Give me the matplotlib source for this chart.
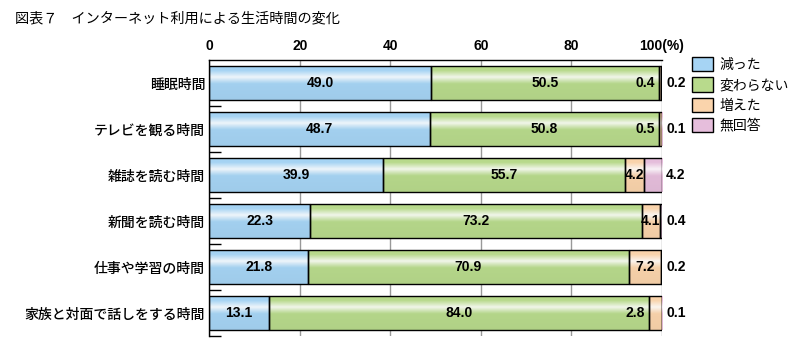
import numpy as np
import matplotlib.pyplot as plt
from matplotlib.patches import Patch
from matplotlib.colors import to_rgb

plt.rcParams['font.family'] = ['Noto Sans CJK JP', 'DejaVu Sans']

categories = ['睡眠時間', 'テレビを観る時間', '雑誌を読む時間', '新聞を読む時間',
              '仕事や学習の時間', '家族と対面で話しをする時間']
series = ['減った', '変わらない', '増えた', '無回答']
decreased = [49.0, 48.7, 39.9, 22.3, 21.8, 13.1]
unchanged = [50.5, 50.8, 55.7, 73.2, 70.9, 84.0]
increased = [0.4, 0.5, 4.2, 4.1, 7.2, 2.8]
no_answer = [0.2, 0.1, 4.2, 0.4, 0.2, 0.1]
xticks = [0, 20, 40, 60, 80, 100]
xtick_labels = ['0', '20', '40', '60', '80', '100(%)']

colors = ['#a6d4f4', '#b8da8c', '#fad4ac', '#e6bedc']
num_font = dict(family='Liberation Sans', weight='bold', size=10)

values = np.array([decreased, unchanged, increased, no_answer])
# bars are scaled so each row fills 100%
widths = values / values.sum(axis=0) * 100

fig = plt.figure(figsize=(7.96, 3.49), dpi=100)
ax = fig.add_axes([0.263, 0.0372, 0.5687, 0.7908])

y = np.arange(len(categories))
h = 0.72


def gradient(color):
    base = np.array(to_rgb(color))
    t = np.linspace(0, 1, 64)
    w = np.clip(1 - np.abs(t - 0.32) / 0.2, 0, 1) * 0.85
    shade = 1 - 0.04 * t
    rgb = base[None, :] * (1 - w[:, None]) + w[:, None]
    rgb = rgb * shade[:, None]
    return np.clip(rgb[:, None, :], 0, 1)


left = np.zeros(len(categories))
for k in range(len(series)):
    bars = ax.barh(y, widths[k], height=h, left=left, facecolor='none',
                   edgecolor='black', linewidth=1.0, zorder=3)
    img = gradient(colors[k])
    for b in bars:
        x0, y0 = b.get_x(), b.get_y()
        im = ax.imshow(img, extent=[x0, x0 + b.get_width(), y0 + b.get_height(), y0],
                       aspect='auto', origin='upper', zorder=2, interpolation='bilinear')
        im.set_clip_path(b)
    left = left + widths[k]

# value labels
for i in range(len(categories)):
    x0 = 0
    for k in range(len(series)):
        w = widths[k, i]
        txt = f'{values[k, i]:.1f}'
        if k == 3:
            ax.annotate(txt, (100, i), xytext=(3, 0), textcoords='offset points',
                        ha='left', va='center', **num_font)
        elif k == 2 and w < 4:
            ax.annotate(txt, (x0, i), xytext=(-3, 0), textcoords='offset points',
                        ha='right', va='center', zorder=5, **num_font)
        else:
            ax.text(x0 + w / 2, i, txt, ha='center', va='center', zorder=5, **num_font)
        x0 += w

ax.set_xlim(0, 100)
ax.set_ylim(len(categories) - 0.5, -0.5)

ax.xaxis.tick_top()
ax.set_xticks(xticks)
ax.set_xticklabels(xtick_labels, fontdict=num_font)
ax.tick_params(axis='x', length=0, pad=5)
ax.grid(axis='x', color='#999999', linewidth=1.0, zorder=0)
ax.set_axisbelow(True)

ax.set_yticks(y)
ax.set_yticklabels(categories, fontsize=10, fontweight='medium')
ax.tick_params(axis='y', which='major', length=0, pad=3)
ax.set_yticks(np.arange(len(categories)) + 0.5, minor=True)
ax.tick_params(axis='y', which='minor', direction='in', length=8.6, width=1.0, color='black')

for side in ['right', 'bottom']:
    ax.spines[side].set_visible(False)
for side in ['left', 'top']:
    ax.spines[side].set_linewidth(1.0)

handles = [Patch(facecolor=c, edgecolor='black', linewidth=1.0) for c in colors]
fig.legend(handles, series, loc='upper left', bbox_to_anchor=(692 / 796, 1 - 57 / 349),
           frameon=False, fontsize=10, handlelength=1.5, handleheight=1.2,
           labelspacing=0.4, handletextpad=0.5, borderaxespad=0, borderpad=0)

fig.text(15 / 796, 1 - 18 / 349, '図表７　インターネット利用による生活時間の変化',
         fontsize=10.2, va='center', ha='left')

fig.savefig('out.png', dpi=100)
